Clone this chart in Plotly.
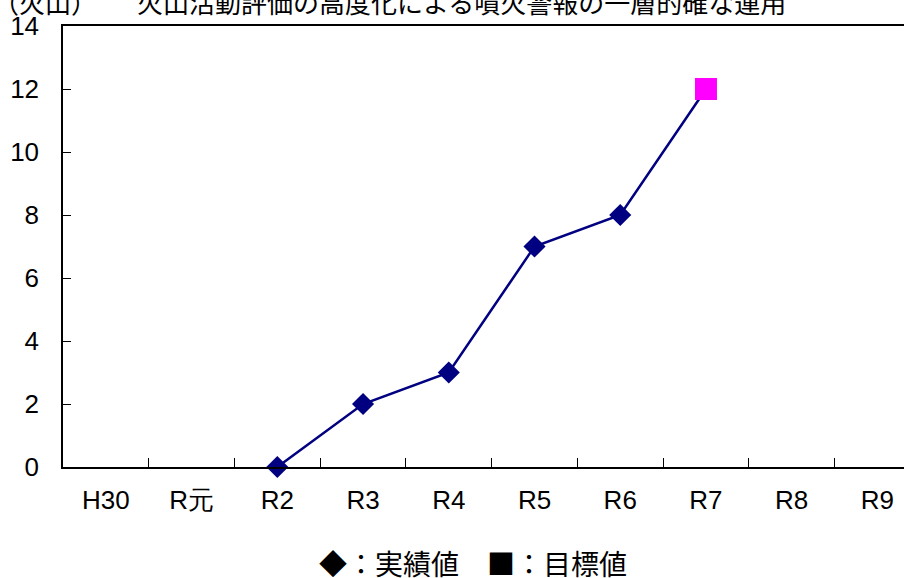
import plotly.graph_objects as go

categories = ["H30", "R元", "R2", "R3", "R4", "R5", "R6", "R7", "R8", "R9"]
actual_x = ["R2", "R3", "R4", "R5", "R6"]
actual_y = [0, 2, 3, 7, 8]
target_x = ["R7"]
target_y = [12]
line_x = actual_x + target_x
line_y = actual_y + target_y
y_ticks = [0, 2, 4, 6, 8, 10, 12, 14]

NAVY = "#000080"
MAGENTA = "#FF00FF"
TICKFONT = dict(family="Liberation Sans, Arial, sans-serif", size=26, color="#000000")
CJK = "Noto Sans CJK JP, sans-serif"

fig = go.Figure()
fig.add_trace(go.Scatter(x=line_x, y=line_y, mode="lines",
                         line=dict(color=NAVY, width=2.5), hoverinfo="skip",
                         showlegend=False))
fig.add_trace(go.Scatter(x=actual_x, y=actual_y, mode="markers",
                         marker=dict(symbol="diamond", size=17, color=NAVY),
                         showlegend=False, cliponaxis=False))
fig.add_trace(go.Scatter(x=target_x, y=target_y, mode="markers",
                         marker=dict(symbol="square", size=22, color=MAGENTA),
                         showlegend=False, cliponaxis=False))

fig.update_xaxes(type="category", categoryorder="array", categoryarray=categories,
                 range=[-0.5, 9.31], tickson="boundaries", ticks="inside",
                 ticklen=9, tickcolor="#000000", tickwidth=1,
                 showline=True, linecolor="#000000", linewidth=1.5, mirror=True,
                 showgrid=False, zeroline=False, tickfont=TICKFONT,
                 ticklabelstandoff=9, automargin=False, fixedrange=True)
fig.update_yaxes(range=[0, 14], tickvals=y_ticks, ticks="inside", ticklen=8,
                 tickcolor="#000000", tickwidth=1,
                 showline=True, linecolor="#000000", linewidth=1.5,
                 showgrid=False, zeroline=False, tickfont=TICKFONT,
                 ticklabelstandoff=17, automargin=False, fixedrange=True)

fig.add_annotation(text="（火山）", xref="paper", yref="paper", x=0, y=1,
                   xanchor="left", yanchor="middle", xshift=-72, yshift=25,
                   showarrow=False, font=dict(family=CJK, size=26, color="#000000"))
fig.add_annotation(text="火山活動評価の高度化による噴火警報の一層的確な運用",
                   xref="paper", yref="paper", x=0, y=1,
                   xanchor="left", yanchor="middle", xshift=72, yshift=25,
                   showarrow=False, font=dict(family=CJK, size=26, color="#000000"))
fig.add_annotation(text="◆：実績値　■：目標値", xref="paper", yref="paper",
                   x=0.5, y=0, xanchor="center", yanchor="middle", yshift=-96,
                   xshift=-11,
                   showarrow=False, font=dict(family=CJK, size=28, color="#000000"))

fig.update_layout(width=904, height=578, margin=dict(l=63, r=0, t=26, b=111),
                  paper_bgcolor="#FFFFFF", plot_bgcolor="#FFFFFF",
                  showlegend=False, hovermode=False)
fig.write_html("out.html", config={"displayModeBar": False},
               post_script="document.body.style.margin='0';document.body.style.overflow='hidden';")
